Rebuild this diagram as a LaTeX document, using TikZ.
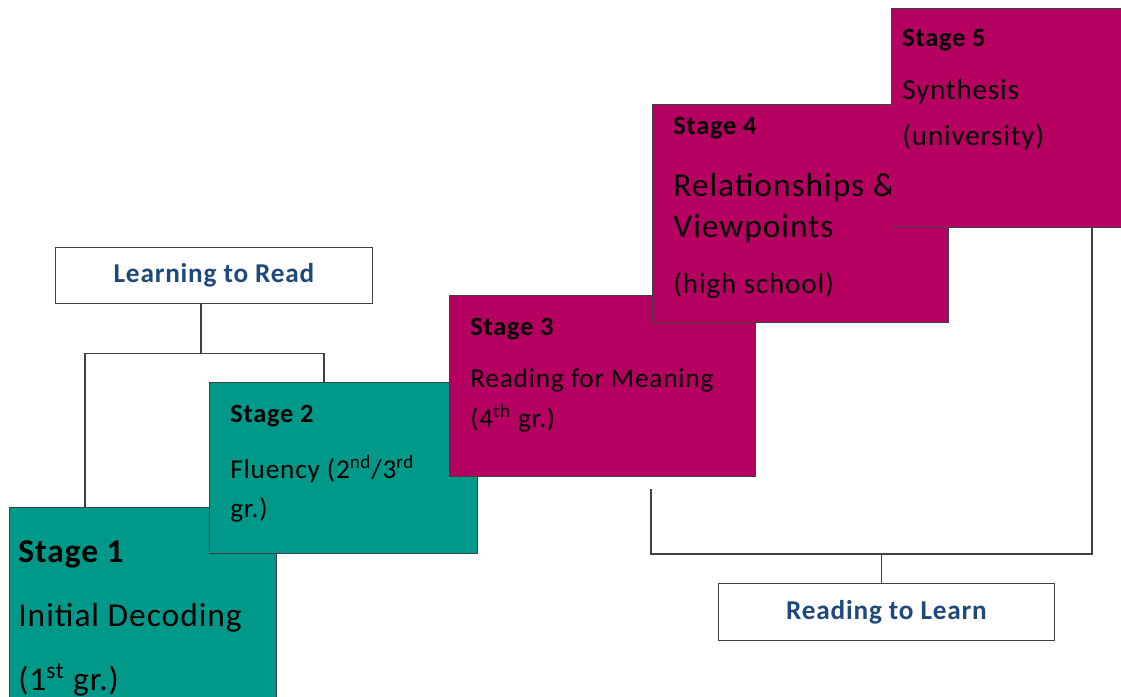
\documentclass[tikz,border=0pt]{standalone}
\usepackage{fontspec}
\setmainfont{Carlito}[LetterSpace=3]
\usetikzlibrary{positioning,calc}
\definecolor{stagegreen}{RGB}{0,152,136}
\definecolor{stagepink}{RGB}{181,0,98}
\definecolor{labelblue}{RGB}{31,73,125}
\tikzset{auto, >=latex, inner sep=0pt, font=\fontsize{15}{18}\selectfont}
\tikzstyle{stage} = [draw=black!75, line width=0.6pt, rectangle, anchor=north west, inner sep=0pt]
\tikzstyle{earlystage} = [stage, fill=stagegreen]
\tikzstyle{laterstage} = [stage, fill=stagepink]
\tikzstyle{phase} = [draw=black!75, line width=0.6pt, fill=white, rectangle, anchor=north west, text=labelblue, font=\bfseries\fontsize{15.5}{18}\selectfont]
\tikzstyle{txt} = [anchor=base west, inner sep=0pt]
\tikzstyle{head} = [txt, font=\bfseries\fontsize{15}{18}\selectfont]
\tikzstyle{bighead} = [txt, font=\bfseries\fontsize{19}{23}\selectfont]
\tikzstyle{bigtxt} = [txt, font=\fontsize{19}{23}\selectfont]
\tikzstyle{midtxt} = [txt, font=\fontsize{16.5}{20}\selectfont]
\tikzstyle{smalltxt} = [txt, font=\fontsize{15.5}{19}\selectfont]
\tikzstyle{link} = [draw=black!75, line width=0.6pt]

\begin{document}
\begin{tikzpicture}[x=0.02cm, y=-0.02cm]
    \useasboundingbox [fill=white] (0,0) rectangle (1121,696);
    \clip (0,0) rectangle (1121,696);

    % the two phases
    \node [phase, minimum width=6.34cm, minimum height=1.12cm] (ltr) at (55,247) {Learning to Read};
    \node [phase, minimum width=6.72cm, minimum height=1.14cm] (rtl) at (718,583) {Reading to Learn};

    % stages, each one laid over the one before
    \node [earlystage, minimum width=5.34cm, minimum height=4cm] (s1) at (9,507) {};
    \node [bighead] (s1head) at (18,562) {Stage 1};
    \node [bigtxt] (s1name) at (18,626) {Initial Decoding};
    \node [bigtxt] (s1grade) at (18,690) {(1\textsuperscript{st} gr.)};

    \node [earlystage, minimum width=5.36cm, minimum height=3.42cm] (s2) at (209,382) {};
    \node [head] (s2head) at (230,422) {Stage 2};
    \node [smalltxt] (s2name) at (230,478) {Fluency (2\textsuperscript{nd}/3\textsuperscript{rd}};
    \node [smalltxt] (s2grade) at (230,517) {gr.)};

    \node [laterstage, minimum width=6.12cm, minimum height=3.62cm] (s3) at (449,295) {};
    \node [head] (s3head) at (470,335) {Stage 3};
    \node [smalltxt] (s3name) at (470,387) {Reading for Meaning};
    \node [smalltxt] (s3grade) at (470,427) {(4\textsuperscript{th} gr.)};

    \node [laterstage, minimum width=5.92cm, minimum height=4.36cm] (s4) at (652,104) {};
    \node [head] (s4head) at (673,134) {Stage 4};
    \node [bigtxt] (s4name) at (673,196) {Relationships \&};
    \node [bigtxt] (s4more) at (673,237) {Viewpoints};
    \node [midtxt] (s4grade) at (673,293) {(high school)};

    \node [laterstage, minimum width=4.8cm, minimum height=4.38cm] (s5) at (891,8) {};
    \node [head] (s5head) at (902,47) {Stage 5};
    \node [midtxt] (s5name) at (902,99) {Synthesis};
    \node [midtxt] (s5grade) at (902,145) {(university)};

    % brackets
    \draw [link] ($(ltr.south)+(-13,0)$) -- ++(0,49) coordinate (ltrjoin);
    \draw [link] ($(s1.north west)+(76,0)$) |- (ltrjoin) -| ($(s2.north west)+(115,0)$);
    \draw [link] ($(rtl.north)+(-5,0)$) -- ++(0,-29) coordinate (rtljoin);
    \draw [link] ($(s3.south west)+(202,12)$) |- (rtljoin) -| ($(s5.south west)+(201,0)$);
\end{tikzpicture}
\end{document}
